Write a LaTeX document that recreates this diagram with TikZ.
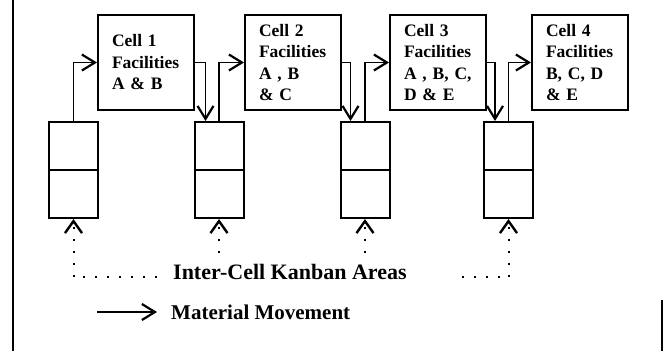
\documentclass[tikz,border=0pt]{standalone}
\usepackage{fontspec}
\setmainfont{Liberation Serif}
\usetikzlibrary{arrows.meta,calc}
\begin{document}
\begin{tikzpicture}[x=1pt,y=-1pt,
  cellbox/.style={draw, line width=2pt, minimum height=95pt, text width=68pt, inner xsep=14pt, inner ysep=0pt, align=left, font=\fontsize{17.5}{21.5}\selectfont\bfseries},
  kbox/.style={draw, line width=2pt, minimum width=49pt, minimum height=96pt, inner sep=0pt},
  flow/.style={line width=1.8pt, -{Straight Barb[length=13pt,width=16pt,line width=2.2pt]}},
  kflow/.style={line width=2pt, dash pattern=on 2pt off 10pt, -{Straight Barb[length=12pt,width=17pt,line width=2.4pt]}},
  kdots/.style={line width=2pt, dash pattern=on 2pt off 10pt},
  lbl/.style={font=\bfseries, inner sep=0pt},
  frame/.style={line width=2.2pt}
]
\useasboundingbox (0,0) rectangle (663,351);
% partial frame of the scan
\draw[frame] (13,0) -- (13,351);
\draw[frame] (662,300) -- (662,351);

% cells
\node[cellbox] (c1) at (146,62.5) {Cell 1\\Facilities\\A \& B};
\node[cellbox] (c2) at (293,62.5) {Cell 2\\Facilities\\A , B\\\& C};
\node[cellbox] (c3) at (438,62.5) {Cell 3\\Facilities\\A , B, C,\\D \& E};
\node[cellbox] (c4) at (580,62.5) {Cell 4\\Facilities\\B, C, D\\\& E};

% kanban areas
\node[kbox] (k1) at (73.5,170) {};
\node[kbox] (k2) at (219,170) {};
\node[kbox] (k3) at (365,170) {};
\node[kbox] (k4) at (508.5,170) {};
\foreach \k in {k1,k2,k3,k4} \draw[line width=1.8pt] (\k.west) -- (\k.east);

% material flow
\draw[flow] (k1.north) |- (c1.west);
\draw[flow] (c1.east) -| ($(k2.north west)+(12,0)$);
\draw[flow] (k2.north) |- (c2.west);
\draw[flow] (c2.east) -| ($(k3.north west)+(11,0)$);
\draw[flow] (k3.north) |- (c3.west);
\draw[flow] (c3.east) -| ($(k4.north west)+(12,0)$);
\draw[flow] (k4.north) |- (c4.west);

% labels
\node[lbl, anchor=west, font=\fontsize{22}{26}\selectfont\bfseries] (ica) at (173,272) {Inter-Cell Kanban Areas};
\coordinate (d1) at (73.5,277);
\coordinate (d2) at (157,277);
\coordinate (d3) at (462,277);
\coordinate (d4) at (508.5,277);
\coordinate (e2) at (219,253);
\coordinate (e3) at (365,253);
\draw[kflow] (d1) -- (k1.south);
\draw[kflow] (e2) -- (k2.south);
\draw[kflow] (e3) -- (k3.south);
\draw[kflow] (d4) -- (k4.south);
\draw[kdots] (d2) -- (d1);
\draw[kdots] (d3) -- (d4);

\coordinate (m0) at (97,312);
\node[lbl, anchor=west, inner xsep=14pt, font=\fontsize{21}{25}\selectfont\bfseries] (mm) at (157,312) {Material Movement};
\draw[flow] (m0) -- (mm.west);
\end{tikzpicture}
\end{document}
